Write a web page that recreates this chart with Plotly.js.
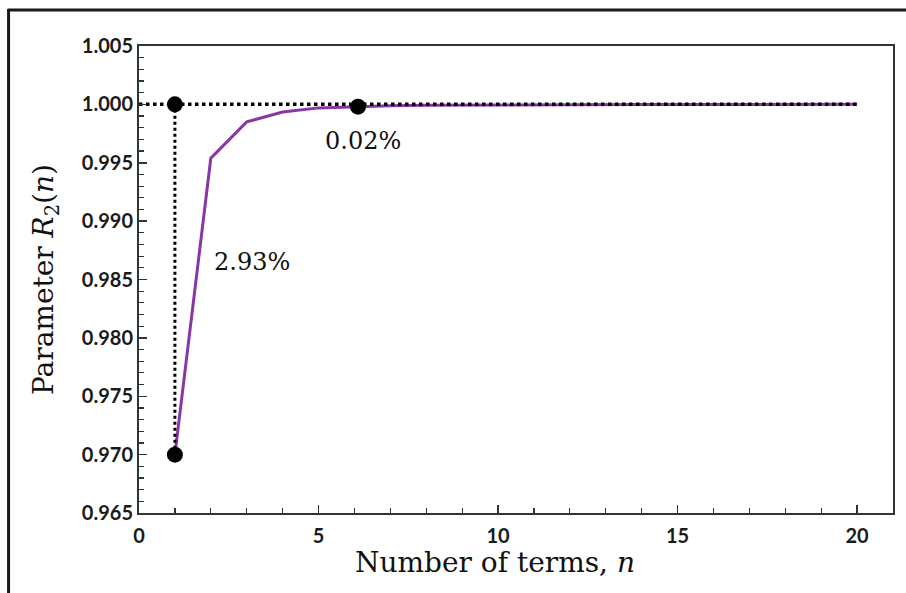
<!DOCTYPE html>
<html>
<head>
<meta charset="utf-8">
<script src="https://cdn.plot.ly/plotly-3.0.1.min.js"></script>
<style>html,body{margin:0;padding:0;background:#fff;}#chart{width:906px;height:593px;}</style>
</head>
<body>
<div id="chart"></div>
<script>
// Data
const nTerms = [1, 2, 3, 4, 5, 6, 7, 8, 9, 10, 11, 12, 13, 14, 15, 16, 17, 18, 19, 20];
const r2Values = [0.9700, 0.9954, 0.9985, 0.99935, 0.9997, 0.9998, 0.99988, 0.99992, 0.99994, 0.99996,
                  0.99997, 0.99998, 0.99998, 0.99999, 0.99999, 0.99999, 1.0, 1.0, 1.0, 1.0];
const refLineX = [0, 20];
const refLineY = [1.0, 1.0];
const vertLineX = [1, 1];
const vertLineY = [0.970, 1.0];
const markerX = [1, 1, 6.1];
const markerY = [1.0, 0.970, 0.9998];
const noteTexts = ["2.93%", "0.02%"];
const noteX = [3.15, 6.25];
const noteY = [0.9865, 0.99685];
const xTicks = [0, 5, 10, 15, 20];
const yTicks = [0.965, 0.970, 0.975, 0.980, 0.985, 0.990, 0.995, 1.000, 1.005];

const serif = "DejaVu Serif, Liberation Serif, serif";
const tickFont = {family: "Lato, Open Sans, sans-serif", size: 20, color: "#1a1a1a", weight: 700};

const traces = [
  {x: nTerms, y: r2Values, mode: "lines", line: {color: "#8a35a6", width: 3}, hoverinfo: "skip"},
  {x: refLineX, y: refLineY, mode: "lines", line: {color: "#000", width: 3.5, dash: "dot"}},
  {x: vertLineX, y: vertLineY, mode: "lines", line: {color: "#000", width: 3, dash: "dot"}},
  {x: markerX, y: markerY, mode: "markers", marker: {color: "#000", size: 16, symbol: "circle"}}
];

const axisCommon = {
  showgrid: false, zeroline: false, showline: true, linecolor: "#2b3636", linewidth: 2,
  mirror: true, ticks: "inside", tickcolor: "#2b3636", tickwidth: 1.5, ticklen: 8,
  tickfont: tickFont
};

const layout = {
  width: 906, height: 593,
  margin: {l: 139, r: 13, t: 46, b: 80},
  paper_bgcolor: "#fff", plot_bgcolor: "#fff",
  showlegend: false,
  xaxis: Object.assign({}, axisCommon, {
    range: [0, 21], tickvals: xTicks, ticktext: xTicks.map(String),
    ticklabelstandoff: 4,
    minor: {dtick: 1, ticks: "inside", ticklen: 5, tickcolor: "#2b3636", tickwidth: 1.2}
  }),
  yaxis: Object.assign({}, axisCommon, {
    range: [0.965, 1.005], tickvals: yTicks, ticktext: yTicks.map(v => v.toFixed(3)),
    minor: {dtick: 0.001, ticks: "inside", ticklen: 5, tickcolor: "#2b3636", tickwidth: 1.2},
    title: {text: "Parameter <i>R</i><sub>2</sub>(<i>n</i>)", font: {family: serif, size: 28, color: "#111"}, standoff: 20}
  }),
  annotations: noteTexts.map((t, i) => ({
    x: noteX[i], y: noteY[i], xref: "x", yref: "y", text: t, showarrow: false,
    font: {family: serif, size: 24, color: "#111"}
  })).concat([{
    x: 0.472, y: -0.105, xref: "paper", yref: "paper", text: "Number of terms, <i>n</i>",
    showarrow: false, xanchor: "center", yanchor: "middle",
    font: {family: serif, size: 28, color: "#111"}
  }]),
  shapes: [
    {type: "line", xref: "paper", yref: "paper", x0: -0.174, x1: 1.02, y0: 1.077, y1: 1.077, line: {color: "#1a1a1a", width: 3}},
    {type: "line", xref: "paper", yref: "paper", x0: -0.173, x1: -0.173, y0: 1.079, y1: -0.2, line: {color: "#1a1a1a", width: 3}}
  ]
};

Plotly.newPlot("chart", traces, layout, {displayModeBar: false, staticPlot: true});
</script>
</body>
</html>
